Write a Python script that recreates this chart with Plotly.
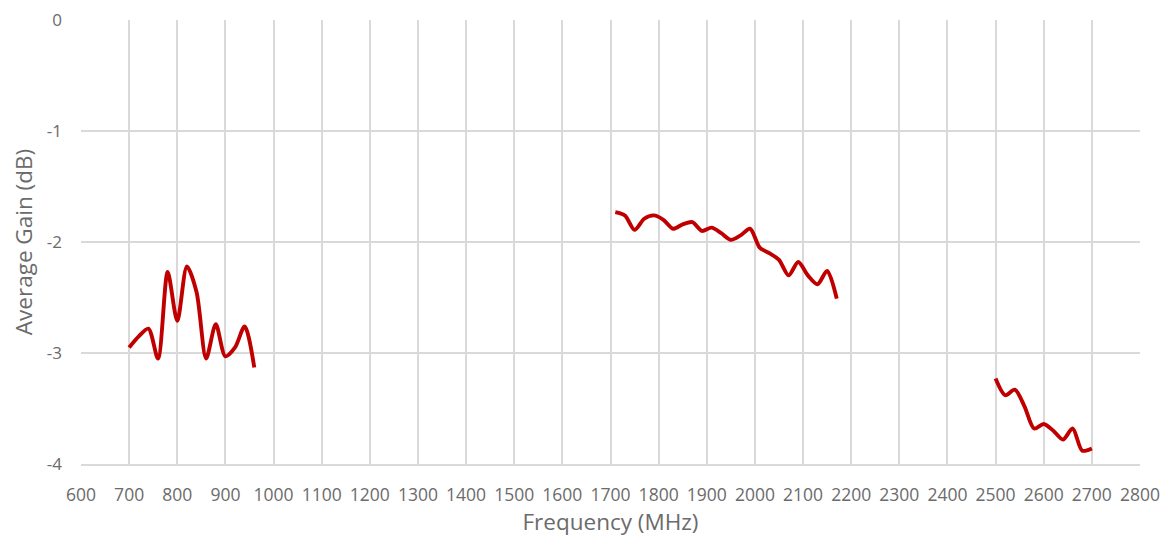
import plotly.graph_objects as go

freq_low = [700, 720, 740, 760, 780, 800, 820, 840, 860, 880, 900, 920, 940, 960]
gain_low = [-2.95, -2.85, -2.78, -3.05, -2.27, -2.71, -2.22, -2.45, -3.05, -2.74, -3.03, -2.95, -2.76, -3.13]

freq_mid = [1710, 1730, 1750, 1770, 1790, 1810, 1830, 1850, 1870, 1890, 1910, 1930,
            1950, 1970, 1990, 2010, 2030, 2050, 2070, 2090, 2110, 2130, 2150, 2170]
gain_mid = [-1.73, -1.76, -1.89, -1.79, -1.76, -1.80, -1.88, -1.84, -1.82, -1.90, -1.87, -1.92,
            -1.98, -1.94, -1.88, -2.05, -2.10, -2.16, -2.30, -2.18, -2.30, -2.38, -2.26, -2.51]

freq_high = [2500, 2520, 2540, 2560, 2580, 2600, 2620, 2640, 2660, 2680, 2700]
gain_high = [-3.23, -3.38, -3.33, -3.48, -3.68, -3.64, -3.70, -3.78, -3.68, -3.88, -3.86]

x_ticks = list(range(600, 2801, 100))
y_ticks = [0, -1, -2, -3, -4]

fig = go.Figure()
for fx, gy in [(freq_low, gain_low), (freq_mid, gain_mid), (freq_high, gain_high)]:
    fig.add_trace(go.Scatter(x=fx, y=gy, mode="lines",
                             line=dict(color="#C00000", width=3.9, shape="spline", smoothing=0.8),
                             showlegend=False, hoverinfo="x+y"))

font_fam = "Open Sans, Noto Sans, sans-serif"
# page body has an 8px margin, so the figure is offset by 8px right/down
fig.update_layout(
    width=1162, height=536,
    margin=dict(l=73, r=30, t=12, b=80),
    paper_bgcolor="white", plot_bgcolor="white",
    font=dict(family=font_fam, color="#6b6b6b", size=17),
    xaxis=dict(range=[600, 2800], tickvals=x_ticks, ticktext=[str(v) for v in x_ticks],
               automargin=False, ticklabeloverflow="allow",
               showgrid=True, gridcolor="#d9d9d9", gridwidth=1.5,
               showline=True, linecolor="#d9d9d9", linewidth=1.5,
               zeroline=False, ticks="", ticklabelstandoff=14,
               tickfont=dict(size=17.5, color="#6b6b6b"),
               title=dict(text="Frequency (MHz)", font=dict(size=22.5, color="#6b6b6b"), standoff=8)),
    yaxis=dict(range=[-4, 0.001], tickvals=y_ticks, ticktext=[str(v) for v in y_ticks],
               automargin=False, ticklabeloverflow="allow",
               showgrid=True, gridcolor="#d9d9d9", gridwidth=1.5,
               showline=False, zeroline=False, ticks="", ticklabelstandoff=18,
               tickfont=dict(size=17, color="#6b6b6b"),
               title=dict(text="Average Gain (dB)", font=dict(size=22.5, color="#6b6b6b"), standoff=14)),
)
fig.write_html("out.html")
